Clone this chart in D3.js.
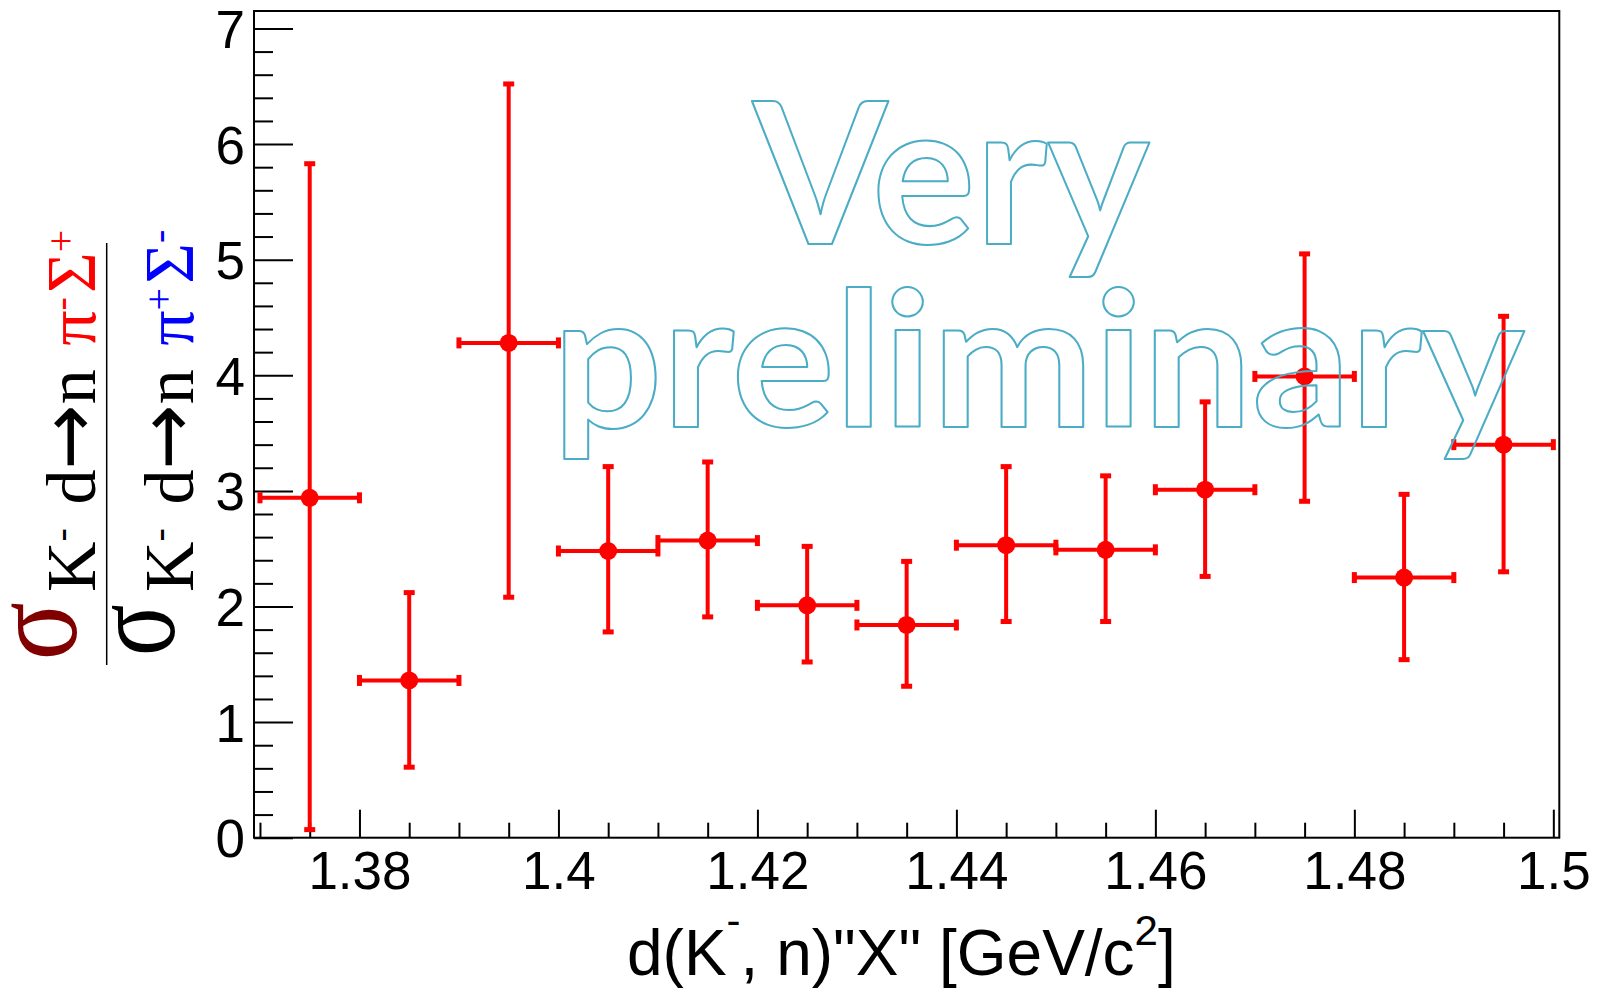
<!DOCTYPE html>
<html>
<head>
<meta charset="utf-8">
<script src="https://cdn.jsdelivr.net/npm/d3@7"></script>
<style>
  html, body { margin: 0; padding: 0; background: #ffffff; }
  svg { display: block; }
</style>
</head>
<body>
<svg id="chart" width="1598" height="989"></svg>
<script>
// ---------------- DATA ----------------
const binCenters    = [1.375, 1.385, 1.395, 1.405, 1.415, 1.425, 1.435, 1.445, 1.455, 1.465, 1.475, 1.485, 1.495];
const binHalfWidths = [0.005, 0.005, 0.005, 0.005, 0.005, 0.005, 0.005, 0.005, 0.005, 0.005, 0.005, 0.005, 0.005];
const ratioValues   = [2.94, 1.36, 4.28, 2.48, 2.57, 2.01, 1.84, 2.53, 2.49, 3.01, 3.99, 2.25, 3.40];
const ratioLow      = [0.07, 0.61, 2.08, 1.78, 1.91, 1.52, 1.31, 1.87, 1.87, 2.26, 2.91, 1.54, 2.30];
const ratioHigh     = [5.83, 2.12, 6.52, 3.21, 3.25, 2.52, 2.39, 3.21, 3.13, 3.77, 5.05, 2.97, 4.51];

const xMajorTicks = [1.38, 1.40, 1.42, 1.44, 1.46, 1.48, 1.50];
const xTickLabels = ["1.38", "1.4", "1.42", "1.44", "1.46", "1.48", "1.5"];
const yMajorTicks = [0, 1, 2, 3, 4, 5, 6, 7];
const yTickLabels = ["0", "1", "2", "3", "4", "5", "6", "7"];
const xDomain = [1.3694, 1.5006];
const yDomain = [0, 7.151];
const xMinorStep = 0.005;
const yMinorStep = 0.2;

const watermarkLines = ["Very", "preliminary"];

// ---------------- SETUP ----------------
const svg = d3.select("#chart");
const RED = "#ff0000";
const BLUE = "#0000ff";
const SANS = "'Liberation Sans', Arial, Helvetica, sans-serif";
const SERIF = "'Liberation Serif', 'Times New Roman', serif";
const ARROWFONT = "'DejaVu Sans', sans-serif";

const x = d3.scaleLinear().domain(xDomain).range([254, 1559.3]);
const y = d3.scaleLinear().domain(yDomain).range([837.7, 11]);

const canvas = document.createElement("canvas");
const ctx = canvas.getContext("2d");
function measureInk(str, family, weight, size) {
  ctx.font = `${weight} ${size}px ${family}`;
  const m = ctx.measureText(str);
  return { l: m.actualBoundingBoxLeft, r: m.actualBoundingBoxRight,
           a: m.actualBoundingBoxAscent, d: m.actualBoundingBoxDescent };
}
// fit a string's ink box into [x0,y0,x1,y1] (local coordinates of parent)
function fitText(parent, str, family, weight, box) {
  const m = measureInk(str, family, weight, 100);
  const w = m.l + m.r, h = m.a + m.d;
  const sx = (box[2] - box[0]) / w, sy = (box[3] - box[1]) / h;
  const tx = box[0] + m.l * sx, ty = box[1] + m.a * sy;
  return parent.append("text")
    .attr("x", 0).attr("y", 0)
    .attr("font-family", family).attr("font-weight", weight)
    .attr("font-size", 100)
    .attr("transform", `translate(${tx},${ty}) scale(${sx},${sy})`)
    .text(str);
}
// rich text with sub/superscript parts
function richText(parent, px, py, family, size, parts) {
  const t = parent.append("text")
    .attr("x", px).attr("y", py)
    .attr("font-family", family).attr("font-size", size)
    .style("white-space", "pre");
  let raise = 0;
  parts.forEach(p => {
    const r = p.raise || 0;
    const ts = t.append("tspan").text(p.t)
      .attr("dy", -(r - raise))
      .attr("fill", p.color || "#000");
    if (p.size) ts.attr("font-size", p.size);
    if (p.family) ts.attr("font-family", p.family);
    if (p.dx) ts.attr("dx", p.dx);
    raise = r;
  });
  return t;
}

// ---------------- AXES ----------------
const xMinor = d3.range(0, Math.round((xMajorTicks[xMajorTicks.length-1] - 1.37) / xMinorStep) + 1)
  .map(i => +(1.37 + i * xMinorStep).toFixed(4))
  .filter(v => !xMajorTicks.some(t => Math.abs(t - v) < 1e-6));
const yMinor = d3.range(0, Math.round(7 / yMinorStep) + 1)
  .map(i => +(i * yMinorStep).toFixed(4))
  .filter(v => !yMajorTicks.some(t => Math.abs(t - v) < 1e-6));

function styleAxis(g) {
  g.select(".domain").remove();
  g.selectAll("line").attr("stroke", "#000").attr("stroke-width", 2);
  g.attr("font-family", SANS).attr("font-size", 53);
  g.selectAll("text").attr("fill", "#000");
}

svg.append("g").attr("transform", `translate(0,${y(0)})`)
  .call(d3.axisBottom(x).tickValues(xMinor).tickSize(-15).tickFormat(""))
  .call(styleAxis);
svg.append("g").attr("transform", `translate(0,${y(0)})`)
  .call(d3.axisBottom(x).tickValues(xMajorTicks).tickSize(-28).tickPadding(14)
        .tickFormat((d, i) => xTickLabels[i]))
  .call(styleAxis);

svg.append("g").attr("transform", `translate(${x.range()[0]},0)`)
  .call(d3.axisLeft(y).tickValues(yMinor).tickSize(-19).tickFormat(""))
  .call(styleAxis);
const yAx = svg.append("g").attr("transform", `translate(${x.range()[0]},0)`)
  .call(d3.axisLeft(y).tickValues(yMajorTicks).tickSize(-39).tickPadding(9)
        .tickFormat((d, i) => yTickLabels[i]))
  .call(styleAxis);
yAx.selectAll("text").attr("dy", "0.36em");

// frame
svg.append("rect")
  .attr("x", x.range()[0]).attr("y", y.range()[1])
  .attr("width", x.range()[1] - x.range()[0])
  .attr("height", y.range()[0] - y.range()[1])
  .attr("fill", "none").attr("stroke", "#000").attr("stroke-width", 2);

// ---------------- DATA MARKS ----------------
const pts = binCenters.map((c, i) => ({
  x: c, xe: binHalfWidths[i], y: ratioValues[i], lo: ratioLow[i], hi: ratioHigh[i]
}));
const gData = svg.append("g");
const LW = 4, CAP = 11, CAPT = 5;

gData.selectAll("line.h").data(pts).join("line").attr("class", "h")
  .attr("x1", d => x(d.x - d.xe)).attr("x2", d => x(d.x + d.xe))
  .attr("y1", d => y(d.y)).attr("y2", d => y(d.y))
  .attr("stroke", RED).attr("stroke-width", LW);
gData.selectAll("line.v").data(pts).join("line").attr("class", "v")
  .attr("x1", d => x(d.x)).attr("x2", d => x(d.x))
  .attr("y1", d => y(d.lo)).attr("y2", d => y(d.hi))
  .attr("stroke", RED).attr("stroke-width", LW);
gData.selectAll("rect.ct").data(pts.flatMap(d => [{x: d.x, v: d.lo}, {x: d.x, v: d.hi}]))
  .join("rect").attr("class", "ct")
  .attr("x", d => x(d.x) - CAP / 2).attr("y", d => y(d.v) - CAPT / 2)
  .attr("width", CAP).attr("height", CAPT).attr("fill", RED);
gData.selectAll("rect.cs").data(pts.flatMap(d => [{x: d.x - d.xe, v: d.y}, {x: d.x + d.xe, v: d.y}]))
  .join("rect").attr("class", "cs")
  .attr("x", d => x(d.x) - CAPT / 2).attr("y", d => y(d.v) - CAP / 2)
  .attr("width", CAPT).attr("height", CAP).attr("fill", RED);
gData.selectAll("circle").data(pts).join("circle")
  .attr("cx", d => x(d.x)).attr("cy", d => y(d.y)).attr("r", 9)
  .attr("fill", RED);

// ---------------- X TITLE ----------------
richText(svg, 627, 975, SANS, 64, [
  { t: "d(K" },
  { t: "-", size: 42, raise: 40 },
  { t: ", n)\"X\" [GeV/c" },
  { t: "2", size: 42, raise: 30 },
  { t: "]" }
]);

// ---------------- Y TITLE (fraction) ----------------
const gy = svg.append("g").attr("transform", "translate(0,660) rotate(-90)");
fitText(gy, "σ", SERIF, "normal", [3, 12, 57, 77]).attr("fill", "#800000");
fitText(gy, "σ", SERIF, "normal", [7, 112, 55, 175]).attr("fill", "#000");
richText(gy, 68, 95, SERIF, 70, [
  { t: "K" },
  { t: "-", size: 40, raise: 21 },
  { t: " d", dx: 6 },
  { t: "→", family: ARROWFONT, size: 78 },
  { t: "n " },
  { t: "π", color: RED, dx: 6 },
  { t: "-", size: 40, raise: 21, color: RED },
  { t: "Σ", color: RED, dx: 4 },
  { t: "+", size: 40, raise: 21, color: RED }
]);
richText(gy, 68, 193, SERIF, 70, [
  { t: "K" },
  { t: "-", size: 40, raise: 21 },
  { t: " d", dx: 6 },
  { t: "→", family: ARROWFONT, size: 78 },
  { t: "n " },
  { t: "π", color: BLUE, dx: 6 },
  { t: "+", size: 40, raise: 21, color: BLUE },
  { t: "Σ", color: BLUE, dx: 4 },
  { t: "-", size: 40, raise: 21, color: BLUE }
]);
gy.append("line").attr("x1", -5).attr("x2", 417).attr("y1", 106.7).attr("y2", 106.7)
  .attr("stroke", "#000").attr("stroke-width", 1.5);

// ---------------- WATERMARK ----------------
const WM = "Lato, 'Open Sans', sans-serif";
const wmBoxes = [[751, 102, 1150, 277], [564, 288, 1525, 459]];
watermarkLines.forEach((s, i) => {
  fitText(svg, s, WM, "bold", wmBoxes[i])
    .attr("fill", "none").attr("stroke", "#4bacc6").attr("stroke-width", 2)
    .attr("vector-effect", "non-scaling-stroke").attr("stroke-linejoin", "round");
});
</script>
</body>
</html>
